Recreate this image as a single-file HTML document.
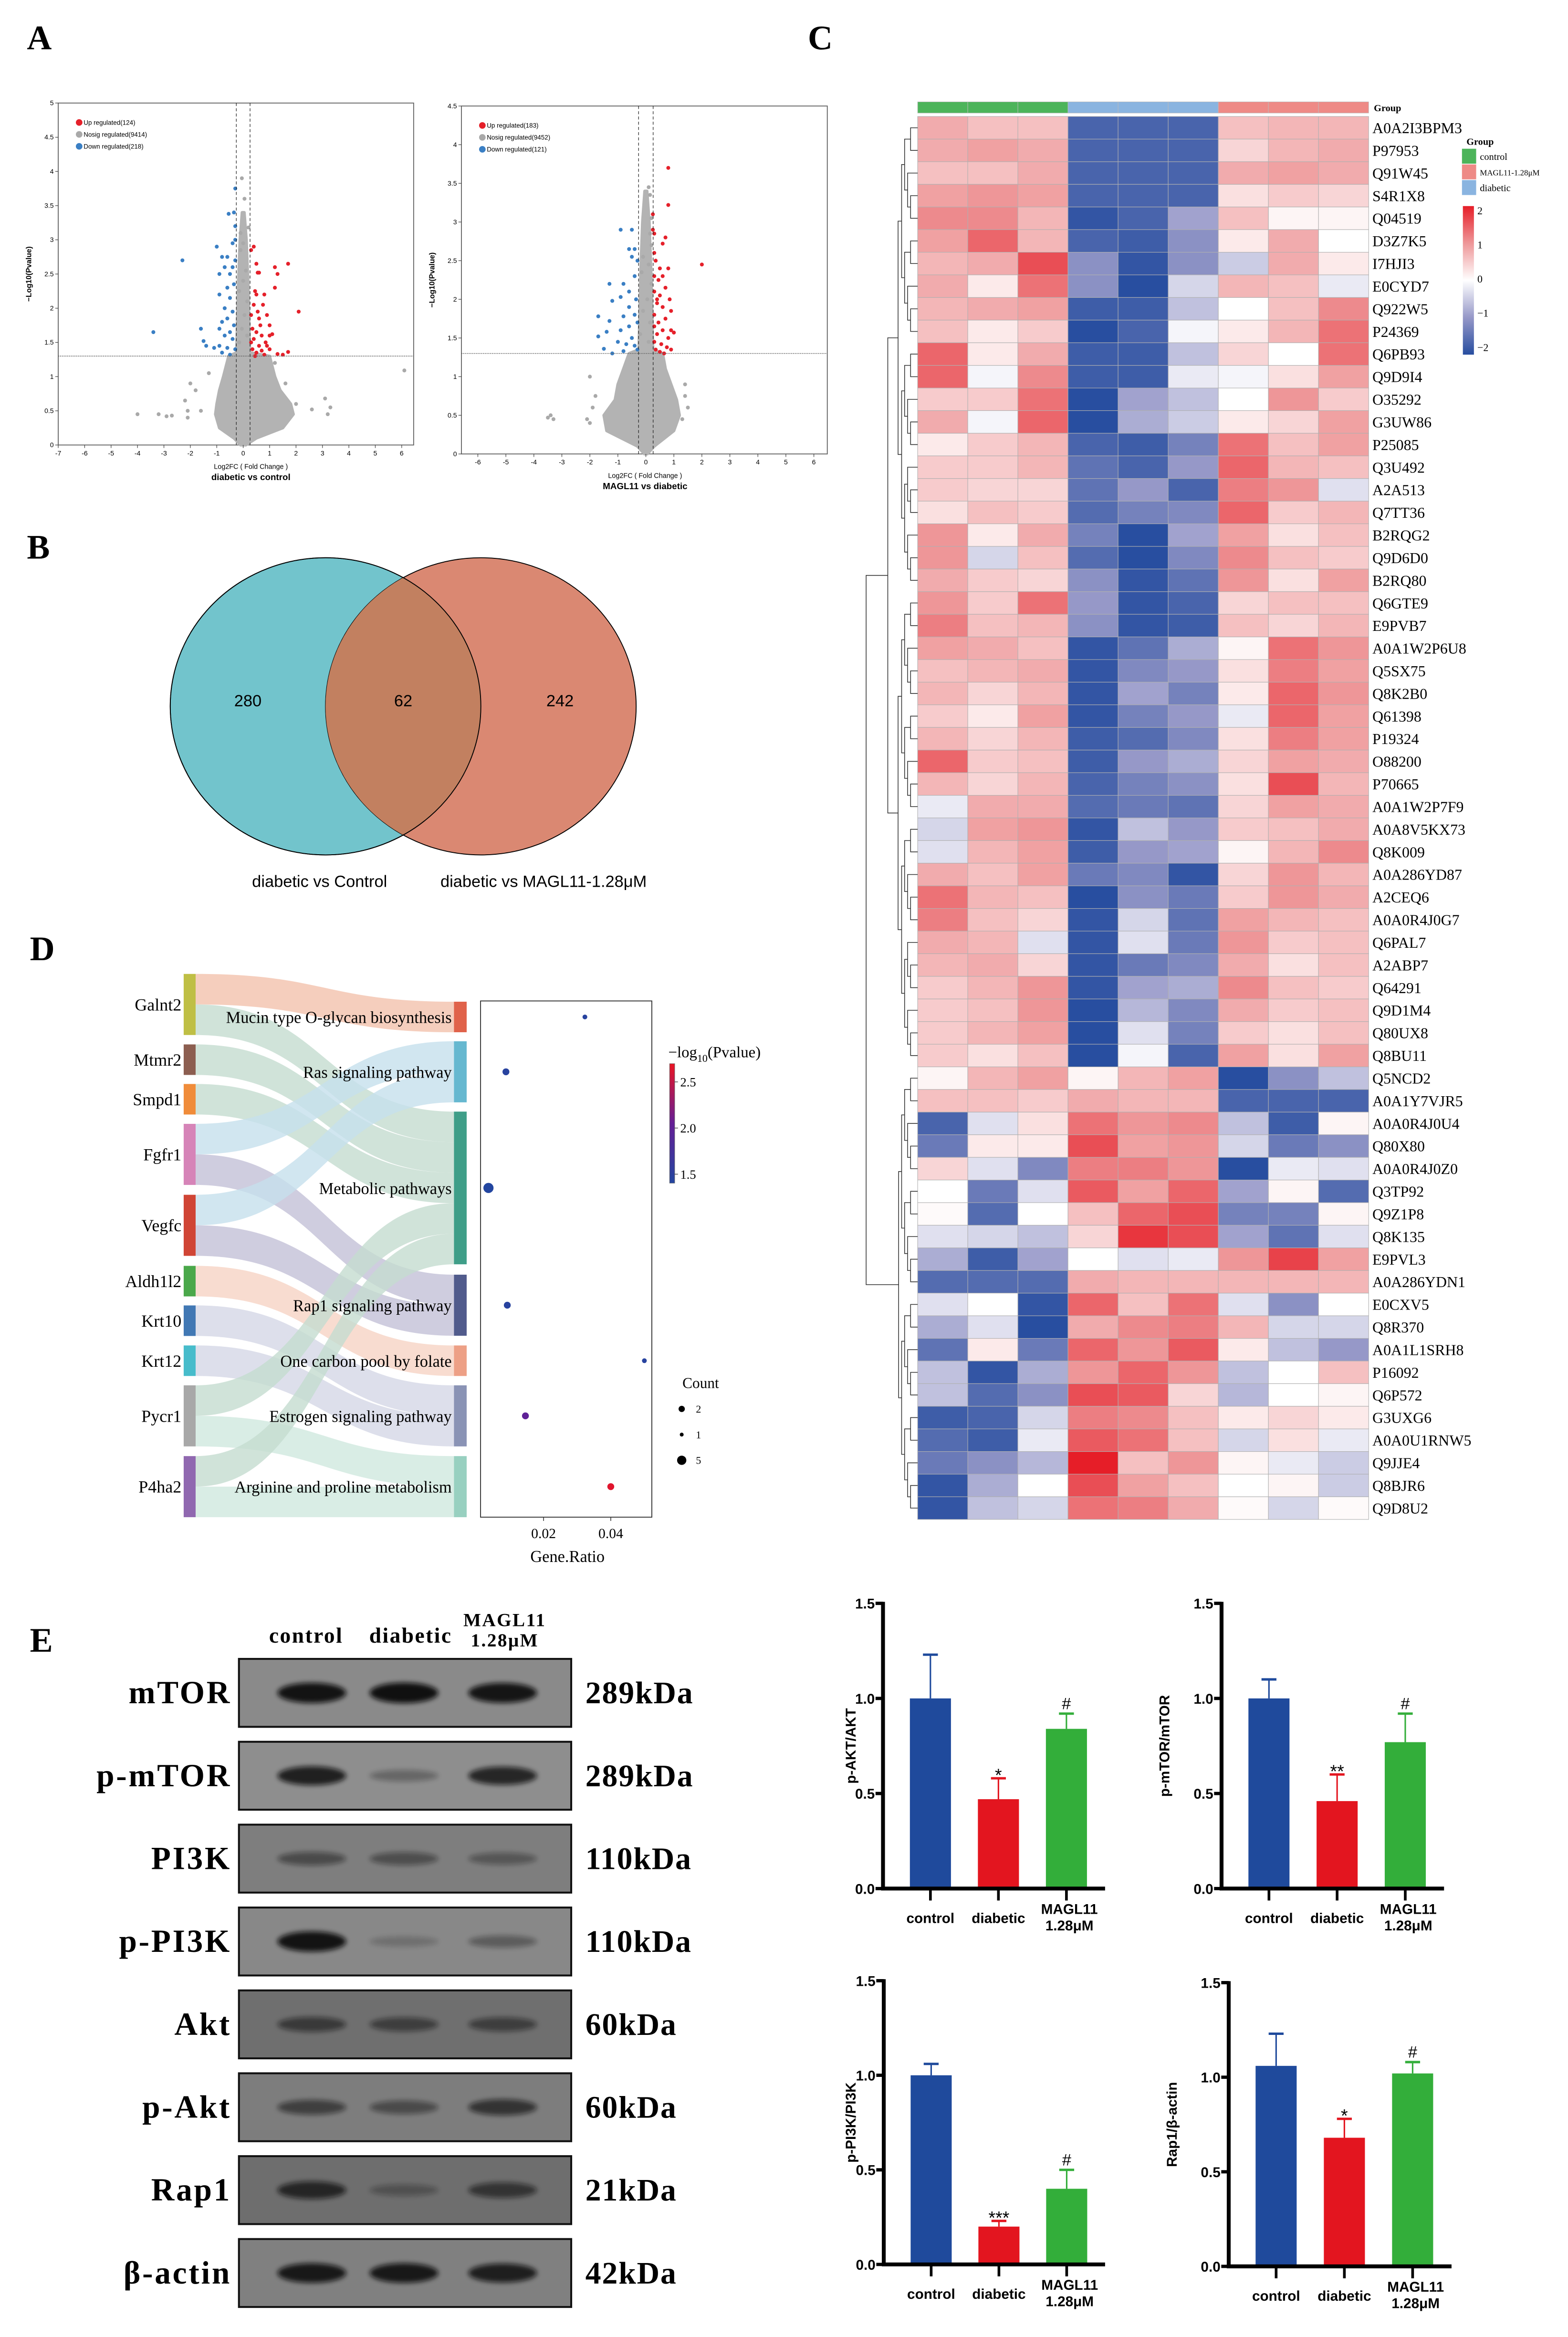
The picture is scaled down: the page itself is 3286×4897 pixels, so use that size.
<!DOCTYPE html>
<html><head><meta charset="utf-8"><style>
html,body{margin:0;padding:0;background:#fff;}
svg{display:block;}
.ser{font-family:"Liberation Serif",serif;}
.san{font-family:"Liberation Sans",sans-serif;}
</style></head><body>
<svg id="fig" xmlns="http://www.w3.org/2000/svg" width="3286" height="4897" viewBox="0 0 1050 1565" preserveAspectRatio="none">
<rect x="0" y="0" width="1050" height="1565" fill="#fff"/>
<g class="ser" font-weight="bold" font-size="23" fill="#000">
<text x="18" y="33">A</text>
<text x="18" y="374">B</text>
<text x="541" y="33">C</text>
<text x="20" y="643">D</text>
<text x="20" y="1106">E</text>
</g>
<!-- Venn -->
<g id="venn">
<defs><clipPath id="tealclip"><ellipse cx="218" cy="473" rx="104" ry="99.5"/></clipPath></defs>
<ellipse cx="218" cy="473" rx="104" ry="99.5" fill="#72c4cc" stroke="#000" stroke-width="0.6"/>
<ellipse cx="322" cy="473" rx="104" ry="99.5" fill="#da8872" stroke="#000" stroke-width="0.6"/>
<ellipse cx="322" cy="473" rx="104" ry="99.5" fill="#c28060" clip-path="url(#tealclip)"/>
<ellipse cx="218" cy="473" rx="104" ry="99.5" fill="none" stroke="#000" stroke-width="0.6"/>
<g class="san" font-size="11" text-anchor="middle">
<text x="166" y="473">280</text>
<text x="270" y="473">62</text>
<text x="375" y="473">242</text>
<text x="214" y="594">diabetic vs Control</text>
<text x="364" y="594">diabetic vs MAGL11-1.28μM</text>
</g>
</g>
<g id="volc"></g>
<g id="heat"></g>
<g id="sankey"></g>
<g id="blot"></g>
<g id="bars"></g>
</svg>
<script>
const NS='http://www.w3.org/2000/svg';
function mk(tag,attrs,parent,txt){const e=document.createElementNS(NS,tag);for(const k in attrs)e.setAttribute(k,attrs[k]);if(txt!==undefined)e.textContent=txt;parent.appendChild(e);return e;}

/* ================= VOLCANO DATA ================= */
const volcLeftUp=[[0.3,2.85],[0.4,2.9],[0.5,2.65],[0.55,2.52],[0.6,2.52],[1.2,2.6],[1.3,2.5],[1.7,2.65],[0.45,2.25],[0.5,2.2],[0.8,2.2],[1.2,2.3],[0.4,2.05],[0.55,1.95],[0.6,1.85],[0.9,1.9],[1.0,1.75],[2.1,1.95],[0.35,1.7],[0.5,1.65],[0.7,1.6],[1.0,1.6],[1.1,1.62],[0.4,1.55],[0.6,1.45],[0.85,1.5],[0.35,1.4],[0.5,1.35],[0.7,1.38],[1.0,1.4],[1.3,1.33],[1.7,1.36],[0.45,1.3],[0.8,1.32],[1.5,1.32],[0.3,1.5],[0.65,1.75],[0.9,1.45],[0.3,1.9],[0.75,2.05]];
const volcLeftDown=[[-0.3,3.75],[-0.35,3.4],[-0.55,3.38],[-0.3,3.2],[-0.4,2.95],[-1.0,2.9],[-0.6,2.75],[-0.8,2.75],[-0.3,2.7],[-2.3,2.7],[-0.7,2.6],[-0.9,2.5],[-0.5,2.5],[-0.35,2.35],[-0.6,2.3],[-0.9,2.2],[-0.5,2.15],[-0.7,2.0],[-0.4,1.95],[-0.6,1.85],[-0.8,1.8],[-0.35,1.75],[-0.9,1.7],[-1.6,1.7],[-0.5,1.65],[-0.7,1.6],[-3.4,1.65],[-0.4,1.55],[-1.5,1.52],[-0.9,1.45],[-0.6,1.42],[-1.4,1.45],[-0.3,1.4],[-0.8,1.35],[-1.1,1.42],[-0.5,1.32],[-0.4,2.6],[-0.3,3.0]];
const volcLeftNosig=[[-0.05,3.9],[0.05,3.6],[0.2,3.18],[-0.1,3.1],[0.0,2.95],[-0.1,2.85],[0.1,2.55],[0.0,2.4],[-0.15,2.25],[0.15,2.1],[0.05,1.9],[-0.05,1.7],[0.15,1.6],[-0.15,1.5],[6.1,1.09],[-4.0,0.45],[-3.2,0.45],[-2.9,0.42],[-2.7,0.43],[-2.1,0.4],[-2.1,0.5],[-2.0,0.9],[-2.2,0.65],[-1.6,0.5],[-1.8,0.8],[3.1,0.68],[3.3,0.55],[3.2,0.45],[2.6,0.52],[2.0,0.6],[-1.3,1.05],[1.2,1.2],[1.6,0.9]];
const volcLeftEnvP=[0.0,0.1,0.25,0.45,0.6,0.8,1.0,1.15,1.3,1.35,1.8,2.4,3.0,3.4];
const volcLeftEnvL=[-0.1,-0.35,-0.9,-1.05,-1.0,-0.9,-0.75,-0.65,-0.55,-0.25,-0.22,-0.18,-0.12,-0.04];
const volcLeftEnvR=[0.1,0.5,1.5,1.9,1.8,1.4,1.2,1.1,1.0,0.25,0.22,0.18,0.12,0.04];
const volcRightUp=[[0.8,3.7],[0.8,3.22],[0.25,3.1],[0.25,2.9],[0.3,2.85],[0.7,2.8],[0.6,2.72],[0.3,2.6],[0.35,2.5],[2.0,2.45],[0.5,2.4],[0.8,2.4],[0.3,2.3],[0.45,2.25],[0.7,2.15],[0.3,2.1],[0.5,2.05],[0.85,2.0],[0.4,1.95],[0.6,1.9],[0.9,1.85],[0.3,1.8],[0.7,1.75],[0.45,1.7],[0.3,1.65],[0.6,1.6],[0.9,1.6],[1.0,1.57],[0.4,1.55],[0.8,1.5],[0.3,1.45],[0.55,1.42],[0.75,1.38],[0.35,1.35],[0.5,1.32],[0.9,1.35],[0.65,1.3],[0.4,2.0],[0.6,2.3]];
const volcRightDown=[[-0.9,2.9],[-0.5,2.9],[-0.6,2.65],[-0.4,2.65],[-0.5,2.55],[-0.3,2.5],[-1.3,2.2],[-0.8,2.2],[-0.4,2.3],[-0.6,2.1],[-1.2,1.98],[-0.9,2.03],[-0.35,2.0],[-0.6,1.9],[-1.7,1.78],[-0.8,1.78],[-0.4,1.8],[-1.3,1.72],[-0.6,1.65],[-0.3,1.7],[-1.4,1.58],[-0.9,1.6],[-1.7,1.52],[-0.5,1.5],[-1.0,1.45],[-0.7,1.42],[-1.5,1.36],[-0.4,1.4],[-0.8,1.33],[-1.2,1.3],[-0.3,1.35]];
const volcRightNosig=[[0.1,3.45],[0.15,3.35],[0.2,3.05],[0.15,2.85],[0.2,2.7],[-0.1,2.55],[0.1,2.45],[-0.15,2.35],[0.2,2.2],[0.05,2.0],[-0.1,1.85],[0.15,1.7],[-0.2,1.55],[0.1,1.45],[-3.4,0.5],[-3.3,0.45],[-3.5,0.47],[-2.0,0.4],[-2.1,0.45],[-2.0,1.0],[-1.9,0.6],[-1.8,0.75],[1.5,0.6],[1.4,0.9],[1.4,0.75],[1.3,0.45]];
const volcRightEnvP=[0.0,0.1,0.3,0.5,0.7,0.9,1.1,1.3,1.35,1.8,2.4,3.0,3.4];
const volcRightEnvL=[-0.05,-0.3,-1.4,-1.5,-1.1,-1.0,-0.8,-0.6,-0.25,-0.22,-0.18,-0.12,-0.04];
const volcRightEnvR=[0.05,0.3,1.0,1.2,1.1,0.9,0.7,0.6,0.25,0.22,0.18,0.12,0.04];
const volcLeftTicksX=[-7,-6,-5,-4,-3,-2,-1,0,1,2,3,4,5,6];
const volcLeftTicksY=[0,0.5,1,1.5,2,2.5,3,3.5,4,4.5,5];
const volcRightTicksX=[-6,-5,-4,-3,-2,-1,0,1,2,3,4,5,6];
const volcRightTicksY=[0,0.5,1,1.5,2,2.5,3,3.5,4,4.5];
const volcLeftLegend=['Up regulated(124)','Nosig regulated(9414)','Down regulated(218)'];
const volcRightLegend=['Up regulated(183)','Nosig regulated(9452)','Down regulated(121)'];

function volcano(g,cfg){
  const X=v=>cfg.x0+(v-cfg.xmin)*(cfg.x1-cfg.x0)/(cfg.xmax-cfg.xmin);
  const Y=p=>cfg.y0-(p-0)*(cfg.y0-cfg.y1)/cfg.ymax;
  const box=mk('rect',{x:cfg.bx0,y:cfg.y1,width:cfg.bx1-cfg.bx0,height:cfg.y0-cfg.y1,fill:'none',stroke:'#666','stroke-width':0.6},g);
  
  
  let pts=[];
  cfg.envP.forEach((p,i)=>pts.push(X(cfg.envR[i])+','+Y(p)));
  for(let i=cfg.envP.length-1;i>=0;i--)pts.push(X(cfg.envL[i])+','+Y(cfg.envP[i]));
  const cl=mk('polygon',{points:pts.join(' '),fill:'#b3b3b3',stroke:'#b3b3b3','stroke-width':2,'stroke-linejoin':'round'},g);
  
  
  const dot=(arr,col,nm)=>arr.forEach(d=>{const c=mk('circle',{cx:X(d[0]),cy:Y(d[1]),r:1.3,fill:col},g);
    
    });
  dot(cfg.nosig,'#a9a9a9',cfg.name+'-nosig-point');
  dot(cfg.down,'#3a7fc4',cfg.name+'-down-point');
  dot(cfg.up,'#e5202a',cfg.name+'-up-point');
  [-0.26,0.26].forEach(v=>{const l=mk('line',{x1:X(v),x2:X(v),y1:cfg.y1,y2:cfg.y0,stroke:'#222','stroke-width':0.4,'stroke-dasharray':'2,1.5'},g);
    
    });
  const hl=mk('line',{x1:cfg.bx0,x2:cfg.bx1,y1:Y(1.3),y2:Y(1.3),stroke:'#666','stroke-width':0.5,'stroke-dasharray':'0.7,0.5'},g);
  
  
  cfg.tx.forEach(t=>{mk('line',{x1:X(t),x2:X(t),y1:cfg.y0,y2:cfg.y0+2,stroke:'#444','stroke-width':0.4},g);
    const tt=mk('text',{x:X(t),y:cfg.y0+7,'font-size':4.5,'text-anchor':'middle',class:'san'},g,String(t));
    
    });
  cfg.ty.forEach(t=>{mk('line',{x1:cfg.bx0,x2:cfg.bx0-2,y1:Y(t),y2:Y(t),stroke:'#444','stroke-width':0.4},g);
    const tt=mk('text',{x:cfg.bx0-3,y:Y(t)+1.5,'font-size':4.5,'text-anchor':'end',class:'san'},g,String(t));
    
    });
  const cols=['#e5202a','#a9a9a9','#3a7fc4'];
  cfg.legend.forEach((s,i)=>{const c=mk('circle',{cx:cfg.bx0+14,cy:cfg.y1+13+i*8,r:2.2,fill:cols[i]},g);
    
    
    const t=mk('text',{x:cfg.bx0+17,y:cfg.y1+14.5+i*8,'font-size':4.3,class:'san'},g,s);
    
    });
  const yl=mk('text',{transform:`translate(${cfg.bx0-18},${(cfg.y0+cfg.y1)/2}) rotate(-90)`,'font-size':5,'font-weight':'bold','text-anchor':'middle',class:'san'},g,'−Log10(Pvalue)');
  
  
  const xl=mk('text',{x:cfg.xc,y:cfg.y0+16,'font-size':4.6,'text-anchor':'middle',class:'san'},g,'Log2FC ( Fold Change )');
  
  
  const ti=mk('text',{x:cfg.xc,y:cfg.y0+23.5,'font-size':6,'font-weight':'bold','text-anchor':'middle',class:'san'},g,cfg.title);
  
  
}
const volc=document.getElementById('volc');
volcano(volc,{name:'volcano-left',bx0:39,bx1:277,x0:39,x1:269,xmin:-7,xmax:6,y0:298,y1:69,ymax:5,envP:volcLeftEnvP,envL:volcLeftEnvL,envR:volcLeftEnvR,up:volcLeftUp,down:volcLeftDown,nosig:volcLeftNosig,tx:volcLeftTicksX,ty:volcLeftTicksY,legend:volcLeftLegend,xc:168,title:'diabetic vs control'});
volcano(volc,{name:'volcano-right',bx0:309,bx1:554,x0:320,x1:545,xmin:-6,xmax:6,y0:304,y1:71,ymax:4.5,envP:volcRightEnvP,envL:volcRightEnvL,envR:volcRightEnvR,up:volcRightUp,down:volcRightDown,nosig:volcRightNosig,tx:volcRightTicksX,ty:volcRightTicksY,legend:volcRightLegend,xc:432,title:'MAGL11 vs diabetic'});

/* ================= HEATMAP DATA ================= */
const heatRowLabels=['A0A2I3BPM3','P97953','Q91W45','S4R1X8','Q04519','D3Z7K5','I7HJI3','E0CYD7','Q922W5','P24369','Q6PB93','Q9D9I4','O35292','G3UW86','P25085','Q3U492','A2A513','Q7TT36','B2RQG2','Q9D6D0','B2RQ80','Q6GTE9','E9PVB7','A0A1W2P6U8','Q5SX75','Q8K2B0','Q61398','P19324','O88200','P70665','A0A1W2P7F9','A0A8V5KX73','Q8K009','A0A286YD87','A2CEQ6','A0A0R4J0G7','Q6PAL7','A2ABP7','Q64291','Q9D1M4','Q80UX8','Q8BU11','Q5NCD2','A0A1Y7VJR5','A0A0R4J0U4','Q80X80','A0A0R4J0Z0','Q3TP92','Q9Z1P8','Q8K135','E9PVL3','A0A286YDN1','E0CXV5','Q8R370','A0A1L1SRH8','P16092','Q6P572','G3UXG6','A0A0U1RNW5','Q9JJE4','Q8BJR6','Q9D8U2'];
const heatGroups=['control','control','control','diabetic','diabetic','diabetic','MAGL11','MAGL11','MAGL11'];
const heatValues=[
[0.8,0.6,0.6,-1.7,-1.7,-1.7,0.6,0.7,0.7],
[0.8,0.9,0.8,-1.7,-1.7,-1.7,0.4,0.7,0.8],
[0.6,0.6,0.8,-1.7,-1.7,-1.7,0.8,0.9,0.8],
[0.9,1.0,0.9,-1.7,-1.7,-1.7,0.3,0.5,0.4],
[1.1,1.1,0.7,-1.9,-1.7,-0.9,0.6,0.1,0.1],
[0.9,1.4,0.7,-1.7,-1.8,-1.1,0.2,0.8,0.0],
[0.7,0.8,1.6,-1.1,-1.9,-1.1,-0.5,0.8,0.2],
[0.8,0.2,1.3,-1.1,-2.0,-0.4,0.7,0.6,-0.2],
[0.7,0.8,0.9,-1.8,-1.8,-0.6,0.0,0.6,1.1],
[0.6,0.2,0.5,-2.0,-1.7,-0.1,0.2,0.7,1.3],
[1.4,0.2,0.8,-1.8,-1.8,-0.6,0.4,0.0,1.3],
[1.4,-0.1,1.1,-1.8,-1.8,-0.2,-0.1,0.3,0.9],
[0.5,0.5,1.3,-2.0,-0.9,-0.6,0.0,1.0,0.5],
[0.8,-0.1,1.4,-2.0,-0.8,-0.5,0.2,0.4,0.9],
[0.2,0.5,0.7,-1.7,-1.8,-1.3,1.3,0.6,0.9],
[0.5,0.5,0.7,-1.5,-1.7,-1.0,1.4,0.7,0.6],
[0.5,0.4,0.4,-1.5,-1.0,-1.7,1.2,1.0,-0.3],
[0.3,0.6,0.5,-1.6,-1.3,-1.2,1.4,0.5,0.7],
[1.0,0.2,0.8,-1.3,-2.0,-0.9,0.9,0.3,0.6],
[1.0,-0.4,0.6,-1.6,-2.0,-1.2,1.1,0.6,0.5],
[0.8,0.5,0.4,-1.1,-1.9,-1.5,1.0,0.3,0.9],
[1.0,0.5,1.3,-1.0,-1.9,-1.7,0.4,0.6,0.6],
[1.2,0.6,0.7,-1.1,-1.9,-1.8,0.6,0.4,0.7],
[0.9,0.8,0.6,-1.9,-1.5,-0.8,0.1,1.3,1.0],
[0.6,0.7,0.8,-1.9,-1.2,-1.0,0.3,1.2,0.9],
[0.7,0.4,0.7,-1.9,-0.9,-1.3,0.2,1.4,1.0],
[0.5,0.2,0.9,-1.9,-1.3,-1.0,-0.2,1.4,0.9],
[0.7,0.4,0.7,-1.8,-1.6,-1.2,0.3,1.2,0.9],
[1.4,0.5,0.6,-1.8,-1.0,-0.8,0.4,0.9,0.8],
[0.7,0.4,0.7,-1.7,-1.3,-1.1,0.3,1.6,0.7],
[-0.2,0.8,0.8,-1.6,-1.4,-1.5,0.4,0.9,0.8],
[-0.4,0.9,1.0,-1.9,-0.6,-1.0,0.5,0.6,0.8],
[-0.3,0.7,0.9,-1.8,-1.0,-0.9,0.1,0.7,1.1],
[0.8,0.6,0.9,-1.4,-1.2,-1.9,0.4,1.0,0.7],
[1.3,0.7,0.6,-2.0,-1.1,-1.4,0.5,1.0,0.8],
[1.2,0.6,0.4,-1.9,-0.4,-1.5,0.9,0.7,0.6],
[0.8,0.7,-0.3,-1.9,-0.3,-1.4,1.0,0.5,0.6],
[0.7,0.8,0.4,-1.9,-1.4,-1.2,0.8,0.3,0.6],
[0.5,0.7,1.0,-1.9,-0.9,-0.8,1.1,0.6,0.5],
[0.5,0.6,1.0,-2.0,-0.7,-1.2,0.8,0.5,0.6],
[0.5,0.7,0.9,-2.0,-0.3,-1.3,0.5,0.3,0.6],
[0.5,0.3,0.6,-2.0,-0.1,-1.7,0.9,0.3,0.9],
[0.1,0.7,0.9,0.1,0.7,0.9,-2.0,-1.1,-0.6],
[0.6,0.6,0.5,0.8,0.7,0.7,-1.7,-1.7,-1.7],
[-1.7,-0.3,0.3,1.3,1.0,1.1,-0.6,-1.8,0.1],
[-1.4,0.2,0.2,1.6,0.9,1.0,-0.4,-1.4,-1.1],
[0.4,-0.3,-1.2,1.2,1.2,1.0,-2.0,-0.2,-0.3],
[0.0,-1.4,-0.3,1.5,0.9,1.4,-0.9,0.1,-1.6],
[0.05,-1.6,0.0,0.6,1.4,1.6,-1.3,-1.3,0.1],
[-0.3,-0.4,-0.6,0.4,1.8,1.6,-0.9,-1.5,-0.3],
[-0.8,-1.8,-0.9,0.0,-0.3,-0.2,1.0,1.7,0.9],
[-1.6,-1.6,-1.6,0.8,0.7,0.7,0.7,0.7,0.7],
[-0.3,0.0,-1.9,1.4,0.6,1.3,-0.3,-1.1,0.0],
[-0.8,-0.3,-2.0,0.8,1.1,1.2,0.7,-0.4,-0.4],
[-1.5,0.2,-1.4,1.4,1.0,1.5,0.2,-0.6,-1.0],
[-0.6,-1.9,-0.8,1.0,1.4,1.0,-0.6,0.0,0.6],
[-0.6,-1.6,-1.1,1.6,1.5,0.4,-0.7,0.0,0.1],
[-1.8,-1.7,-0.4,1.2,1.1,0.6,0.2,0.4,0.2],
[-1.6,-1.8,-0.2,1.5,1.3,0.6,-0.4,0.3,-0.2],
[-1.4,-1.1,-0.7,2.0,0.6,1.0,0.1,-0.2,-0.5],
[-1.9,-0.8,0.0,1.6,0.9,0.6,0.0,0.1,-0.5],
[-1.9,-0.6,-0.4,1.3,1.2,0.8,0.05,-0.4,0.05]];
const heatScaleTicks=[2,1,0,-1,-2];
const heatLegendGroups=['control','MAGL11-1.28μM','diabetic'];

function heatColor(v){
  const stops=[[-2,[40,78,160]],[-1,[150,152,200]],[0,[255,255,255]],[1,[238,150,152]],[2,[230,30,40]]];
  v=Math.max(-2,Math.min(2,v));
  for(let i=0;i<4;i++){const a=stops[i],b=stops[i+1];if(v<=b[0]){const t=(v-a[0])/(b[0]-a[0]);return 'rgb('+a[1].map((c,k)=>Math.round(c+(b[1][k]-c)*t)).join(',')+')';}}
  return 'rgb(230,30,40)';
}
const heat=document.getElementById('heat');
const HX0=614.5,HX1=916.5,HY0=78,HY1=1017.5;
const cw=(HX1-HX0)/heatGroups.length, rh=(HY1-HY0)/heatRowLabels.length;
const groupColor={control:'#4cb45a',diabetic:'#8ab4e0',MAGL11:'#ee8a86'};
heatGroups.forEach((gname,j)=>{const r=mk('rect',{x:HX0+j*cw,y:68.2,width:cw,height:7.5,fill:groupColor[gname],stroke:'#bbb','stroke-width':0.3},heat);
  
  });
const gl=mk('text',{x:920,y:74.5,'font-size':6.5,'font-weight':'bold',class:'ser'},heat,'Group');


heatValues.forEach((row,i)=>{
  row.forEach((v,j)=>{const r=mk('rect',{x:HX0+j*cw,y:HY0+i*rh,width:cw,height:rh,fill:heatColor(v),stroke:'#b0b0b0','stroke-width':0.35},heat);
    
    });
  const t=mk('text',{x:919,y:HY0+i*rh+rh/2+3.6,'font-size':10.2,class:'ser'},heat,heatRowLabels[i]);
  
  
});
function dend(a,b){
  if(b-a===1)return {x:HX0,y:HY0+a*rh+rh/2};
  let m=(a===0&&b===heatRowLabels.length)?42:Math.floor((a+b)/2);
  const L=dend(a,m),R=dend(m,b);
  const size=b-a;
  const x=(a===0&&b===heatRowLabels.length)?580:HX0-3-17*Math.pow(size/42,0.75);
  const mx=Math.min(x,L.x-2,R.x-2);
  const p=mk('path',{d:`M${L.x},${L.y}H${mx}V${R.y}H${R.x}`,fill:'none',stroke:'#333','stroke-width':0.5},heat);
  
  
  return {x:mx,y:(L.y+R.y)/2};
}
dend(0,heatRowLabels.length);
const lg=mk('text',{x:982,y:97,'font-size':6.5,'font-weight':'bold',class:'ser'},heat,'Group');


const lgc=['#4cb45a','#ee8a86','#8ab4e0'];
heatLegendGroups.forEach((s,i)=>{const r=mk('rect',{x:979,y:99.6+i*10.5,width:9.5,height:10,fill:lgc[i]},heat);
  
  
  const t=mk('text',{x:991,y:107+i*10.5,'font-size':i===1?5.4:6.5,class:'ser'},heat,s);
  
  });
const defs=mk('defs',{},heat);
const lgr=mk('linearGradient',{id:'hg',x1:0,y1:0,x2:0,y2:1},defs);
[[0,2],[0.25,1],[0.5,0],[0.75,-1],[1,-2]].forEach(s=>mk('stop',{offset:s[0],'stop-color':heatColor(s[1])},lgr));
const cb=mk('rect',{x:979.6,y:138,width:7.4,height:99.5,fill:'url(#hg)'},heat);


heatScaleTicks.forEach(t=>{const y=138+3+(2-t)/4*(232.5-141);
  const tt=mk('text',{x:989.3,y:y+2.5,'font-size':7,class:'ser'},heat,t<0?'−'+(-t):String(t));
  
  });

/* ================= SANKEY + DOT DATA ================= */
const sankeyGenes=['Galnt2','Mtmr2','Smpd1','Fgfr1','Vegfc','Aldh1l2','Krt10','Krt12','Pycr1','P4ha2'];
const sankeyGeneTop=[652.2,699.4,725.9,752.6,800.1,847.7,874.2,901.0,927.7,975.1];
const sankeyGeneCount=[2,1,1,2,2,1,1,1,2,2];
const sankeyPathways=['Mucin type O-glycan biosynthesis','Ras signaling pathway','Metabolic pathways','Rap1 signaling pathway','One carbon pool by folate','Estrogen signaling pathway','Arginine and proline metabolism'];
const sankeyPathTop=[670.8,697.3,744.4,853.6,901.0,927.7,975.1];
const sankeyPathCount=[1,2,5,2,1,2,2];
const sankeyLinks=[[0,0],[0,2],[1,2],[2,2],[3,1],[3,3],[4,1],[4,3],[5,4],[6,5],[7,5],[8,2],[8,6],[9,2],[9,6]];
const dotGeneRatio=[0.0323,0.0088,0.0036,0.0092,0.050,0.0146,0.040];
const dotLogP=[1.5,1.5,1.45,1.5,1.5,2.0,2.6];
const dotTicks=[0.02,0.04];
const countLegend=[2,1,5];
const logPTicks=[2.5,2.0,1.5];

const sk=document.getElementById('sankey');
const U=20.45;
const geneCol=['#bfbf45','#8c5e50','#f08c3a','#d684b8','#d04535','#4aa84a','#4178b4','#47bccb','#a8a8a8','#9068b0'];
const pathCol=['#e0624a','#66b8d0','#3f9e88','#515b8c','#eda086','#8a93b5','#98d0c0'];
const linkCol=['#f2c2ad','#c6e0ec','#c4dccf','#c3c1d7','#f6d3c4','#d5d7e6','#cfe8df'];
const gUsed=sankeyGenes.map(()=>0), pUsed=sankeyPathways.map(()=>0);
const byPath={};sankeyLinks.forEach(l=>{(byPath[l[1]]=byPath[l[1]]||[]).push(l);});
const linkGeo=new Map();
sankeyLinks.forEach(l=>{const gy=sankeyGeneTop[l[0]]+gUsed[l[0]]*U;gUsed[l[0]]++;linkGeo.set(l,{gy});});
Object.keys(byPath).forEach(p=>{byPath[p].sort((a,b)=>a[0]-b[0]).forEach(l=>{linkGeo.get(l).py=sankeyPathTop[p]+pUsed[p]*U;pUsed[p]++;});});
const GX=131,PX=304,mid=(GX+PX)/2;
sankeyLinks.forEach(l=>{const {gy,py}=linkGeo.get(l);
  const d=`M${GX},${gy}C${mid},${gy} ${mid},${py} ${PX},${py}L${PX},${py+U}C${mid},${py+U} ${mid},${gy+U} ${GX},${gy+U}Z`;
  const p=mk('path',{d:d,fill:linkCol[l[1]],opacity:0.8},sk);
  
  });
sankeyGenes.forEach((g,i)=>{const r=mk('rect',{x:123,y:sankeyGeneTop[i],width:8,height:sankeyGeneCount[i]*U,fill:geneCol[i]},sk);
  
  
  const t=mk('text',{x:121.5,y:sankeyGeneTop[i]+sankeyGeneCount[i]*U/2+4,'font-size':11.5,'text-anchor':'end',class:'ser'},sk,g);
  
  });
sankeyPathways.forEach((p,i)=>{const r=mk('rect',{x:304,y:sankeyPathTop[i],width:8.5,height:sankeyPathCount[i]*U,fill:pathCol[i]},sk);
  
  
  const t=mk('text',{x:302.5,y:sankeyPathTop[i]+sankeyPathCount[i]*U/2+4,'font-size':11,'text-anchor':'end',class:'ser'},sk,p);
  
  });
const DX=v=>319+v*2250;
const fr=mk('rect',{x:321.8,y:670.3,width:114.7,height:345.7,fill:'none',stroke:'#333','stroke-width':0.6},sk);


function pcol(v){const t=Math.max(0,Math.min(1,(v-1.45)/(2.65-1.45)));
  const a=[35,70,160],m=[100,30,150],b=[235,20,35];
  const c=t<0.5?a.map((x,k)=>x+(m[k]-x)*t*2):m.map((x,k)=>x+(b[k]-x)*(t-0.5)*2);return 'rgb('+c.map(Math.round).join(',')+')';}
const rOf=c=>({1:1.6,2:2.3,5:3.4})[c];
sankeyPathways.forEach((p,i)=>{const c=mk('circle',{cx:DX(dotGeneRatio[i]),cy:sankeyPathTop[i]+sankeyPathCount[i]*U/2,r:rOf(sankeyPathCount[i]),fill:pcol(dotLogP[i])},sk);
  
  });
dotTicks.forEach(t=>{mk('line',{x1:DX(t),x2:DX(t),y1:1016,y2:1018.5,stroke:'#333','stroke-width':0.5},sk);
  const tt=mk('text',{x:DX(t),y:1030,'font-size':9.5,'text-anchor':'middle',class:'ser'},sk,t.toFixed(2));
  
  });
const gr=mk('text',{x:380,y:1046,'font-size':11,'text-anchor':'middle',class:'ser'},sk,'Gene.Ratio');


const lt=mk('text',{x:447.5,y:708,'font-size':10.5,class:'ser'},sk);


lt.innerHTML='−log<tspan font-size="7" dy="3">10</tspan><tspan dy="-3">(Pvalue)</tspan>';
const pg=mk('linearGradient',{id:'pg',x1:0,y1:0,x2:0,y2:1},defs);
[[0,2.65],[0.5,2.05],[1,1.45]].forEach(s=>mk('stop',{offset:s[0],'stop-color':pcol(s[1])},pg));
const pbar=mk('rect',{x:448.4,y:712.3,width:3.4,height:80,fill:'url(#pg)',stroke:'#666','stroke-width':0.3},sk);


logPTicks.forEach(t=>{const y=724.5+(2.5-t)/1.0*(786.3-724.5);
  mk('line',{x1:451.8,x2:454,y1:y,y2:y,stroke:'#333','stroke-width':0.4},sk);
  const tt=mk('text',{x:455.5,y:y+3,'font-size':8.5,class:'ser'},sk,t.toFixed(1));
  
  });
const ct=mk('text',{x:457,y:929.5,'font-size':10,class:'ser'},sk,'Count');


countLegend.forEach((c,i)=>{const cc=mk('circle',{cx:456.5,cy:943.5+i*17.2,r:({1:1.3,2:2.1,5:3.1})[c],fill:'#000'},sk);
  
  
  const tt=mk('text',{x:466,y:946+i*17.2,'font-size':7,class:'ser'},sk,String(c));
  
  });

/* ================= WESTERN BLOT ================= */
const blotProteins=['mTOR','p-mTOR','PI3K','p-PI3K','Akt','p-Akt','Rap1','β-actin'];
const blotKDa=['289kDa','289kDa','110kDa','110kDa','60kDa','60kDa','21kDa','42kDa'];
const blotIntensity=[[0.95,0.97,0.93],[0.85,0.3,0.8],[0.45,0.42,0.35],[0.95,0.2,0.35],[0.55,0.5,0.5],[0.55,0.45,0.65],[0.75,0.3,0.6],[0.9,0.9,0.85]];
const blotBg=['#8a8a8a','#8e8e8e','#7e7e7e','#888888','#6f6f6f','#7d7d7d','#6e6e6e','#808080'];
const blotLanes=['control','diabetic','MAGL11'];
const bl=document.getElementById('blot');
const bf=mk('filter',{id:'blur',x:'-30%',y:'-100%',width:'160%',height:'300%'},defs);
mk('feGaussianBlur',{stdDeviation:1.6},bf);
const laneX=[208.8,270.5,336.6];
blotProteins.forEach((p,i)=>{const y0=1110.9+i*55.5,h=45.5;
  const r=mk('rect',{x:160,y:y0,width:222.5,height:h,fill:blotBg[i],stroke:'#111','stroke-width':1.3},bl);
  
  
  blotIntensity[i].forEach((v,j)=>{const e=mk('ellipse',{cx:laneX[j],cy:y0+h/2,rx:23,ry:2.5+v*4.5,fill:'#0b0b0b',opacity:v,filter:'url(#blur)'},bl);
    
    });
  const t=mk('text',{x:155,y:y0+h/2+7,'font-size':21.5,'font-weight':'bold','text-anchor':'end','letter-spacing':1.2,class:'ser'},bl,p);
  
  
  const k=mk('text',{x:392,y:y0+h/2+7,'font-size':21,'font-weight':'bold','letter-spacing':0.6,class:'ser'},bl,blotKDa[i]);
  
  });
[['control',205,1100,14.5],['diabetic',275,1100,14.5],['MAGL11',338,1089,12.5],['1.28μM',338,1102.5,12.5]].forEach(h=>{
  const t=mk('text',{x:h[1],y:h[2],'font-size':h[3],'font-weight':'bold','text-anchor':'middle','letter-spacing':0.8,class:'ser'},bl,h[0]);
  
  });

/* ================= BAR CHARTS ================= */
const barCategories=['control','diabetic','MAGL11 1.28μM'];
const barTicks=[0,0.5,1.0,1.5];
const barTitles=['p-AKT/AKT','p-mTOR/mTOR','p-PI3K/PI3K','Rap1/β-actin'];
const barMeans=[[1.0,0.47,0.84],[1.0,0.46,0.77],[1.0,0.2,0.4],[1.06,0.68,1.02]];
const barErrs=[[0.23,0.11,0.08],[0.1,0.14,0.15],[0.06,0.03,0.1],[0.17,0.1,0.06]];
const barSig=[['','*','#'],['','**','#'],['','***','#'],['','*','#']];
const barCols=['#1f4a9c','#e3151f','#33ae3a'];
const bg=document.getElementById('bars');
const panels=[{ax:591.3,top:1073.7,zero:1264.7,xend:740,yl:573},{ax:818,top:1073.7,zero:1264.7,xend:967,yl:783},{ax:591.8,top:1326.4,zero:1516.4,xend:740,yl:573},{ax:822.8,top:1327.7,zero:1517.7,xend:972,yl:788}];
panels.forEach((P,k)=>{
  const g=mk('g',{},bg);
  
  
  const Y=v=>P.zero-v/1.5*(P.zero-P.top);
  const bw=27.5, gap=(P.xend-P.ax-10)/3;
  barMeans[k].forEach((v,j)=>{const cx=P.ax+18+bw/2+j*gap*0.985;
    const r=mk('rect',{x:cx-bw/2,y:Y(v),width:bw,height:P.zero-Y(v),fill:barCols[j]},g);
    
    
    const ey=Y(v+barErrs[k][j]);
    mk('line',{x1:cx,x2:cx,y1:Y(v),y2:ey,stroke:barCols[j],'stroke-width':1},g);
    const cap=mk('line',{x1:cx-5,x2:cx+5,y1:ey,y2:ey,stroke:barCols[j],'stroke-width':1.6},g);
    
    
    if(barSig[k][j]){const s=mk('text',{x:cx,y:ey-(barSig[k][j]==='#'?3:0)+(barSig[k][j]==='#'?0:2),'font-size':barSig[k][j]==='#'?11:12,'text-anchor':'middle',class:'san'},g,barSig[k][j]);
      
      }
    mk('line',{x1:cx,x2:cx,y1:P.zero,y2:P.zero+8,stroke:'#000','stroke-width':1.8},g);
    if(j<2){const t=mk('text',{x:cx,y:P.zero+23,'font-size':9.5,'font-weight':'bold','text-anchor':'middle',class:'san'},g,barCategories[j]);
      
      }
    else{const t1=mk('text',{x:cx+2,y:P.zero+17,'font-size':9.5,'font-weight':'bold','text-anchor':'middle',class:'san'},g,'MAGL11');
      
      
      const t2=mk('text',{x:cx+2,y:P.zero+28,'font-size':9.5,'font-weight':'bold','text-anchor':'middle',class:'san'},g,'1.28μM');
      
      }
  });
  const ya=mk('line',{x1:P.ax,x2:P.ax,y1:P.top-1,y2:P.zero+1.2,stroke:'#000','stroke-width':2.6},g);
  
  
  const xa=mk('line',{x1:P.ax-1.3,x2:P.xend,y1:P.zero,y2:P.zero,stroke:'#000','stroke-width':2.6},g);
  
  
  barTicks.forEach(t=>{mk('line',{x1:P.ax-5,x2:P.ax,y1:Y(t),y2:Y(t),stroke:'#000','stroke-width':2.2},g);
    const tt=mk('text',{x:P.ax-5.5,y:Y(t)+3.5,'font-size':9.5,'font-weight':'bold','text-anchor':'end',class:'san'},g,t.toFixed(1));
    
    });
  const yt=mk('text',{transform:`translate(${P.yl},${(P.top+P.zero)/2}) rotate(-90)`,'font-size':9.5,'font-weight':'bold','text-anchor':'middle',class:'san'},g,barTitles[k]);
  
  
});
</script>
</body></html>
